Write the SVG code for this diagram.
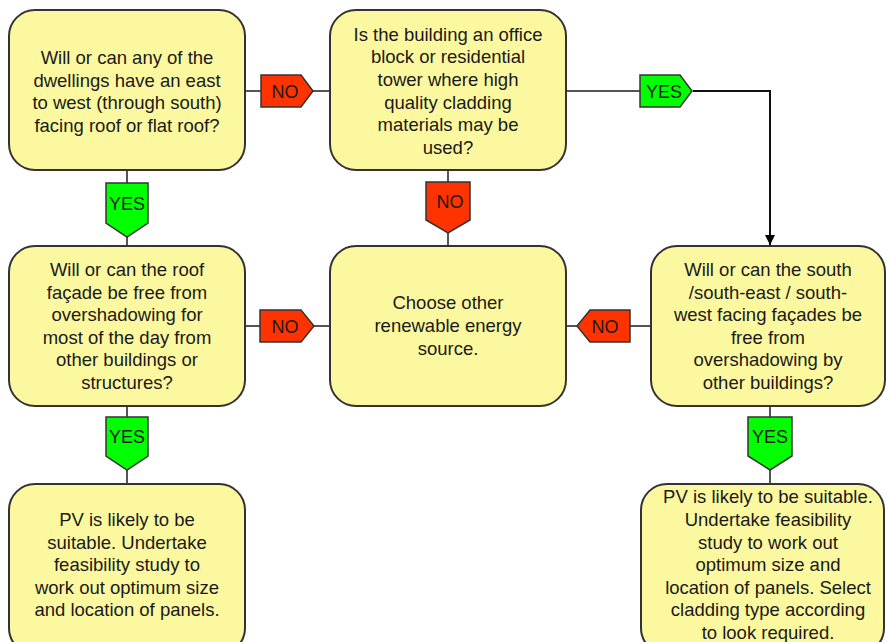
<svg xmlns="http://www.w3.org/2000/svg" width="886" height="642" viewBox="0 0 886 642">
<defs>
<style>
.box{fill:#FCF8A0;stroke:#333;stroke-width:2}
.t{font-family:"Liberation Sans",Arial,sans-serif;font-size:18.5px;fill:#1a1a1a;text-anchor:middle}
.lt{font-family:"Liberation Sans",Arial,sans-serif;font-size:18px;fill:#1a1a1a;text-anchor:middle}
.no{fill:#FF3300;stroke:#333;stroke-width:1.5}
.yes{fill:#00FF00;stroke:#333;stroke-width:1.5}
.c{fill:none;stroke:#555;stroke-width:2}
</style>
<marker id="ah" viewBox="0 0 10 10" refX="10" refY="5" markerWidth="10" markerHeight="10" markerUnits="userSpaceOnUse" orient="auto">
<path d="M0,0 L10,5 L0,10 z" fill="#000"/>
</marker>
</defs>
<rect width="886" height="642" fill="#fff"/>
<g id="connectors">
<line class="c" x1="245" y1="91" x2="329" y2="91"/>
<line class="c" x1="566" y1="91" x2="640" y2="91"/>
<path d="M693,91 H770 V245" fill="none" stroke="#111" stroke-width="2" marker-end="url(#ah)"/>
<line class="c" x1="127" y1="170" x2="127" y2="246"/>
<line class="c" x1="448" y1="170" x2="448" y2="246"/>
<line class="c" x1="245" y1="326" x2="330" y2="326"/>
<line class="c" x1="566" y1="326" x2="651" y2="326"/>
<line class="c" x1="127" y1="406" x2="127" y2="484"/>
<line class="c" x1="770" y1="406" x2="770" y2="484"/>
</g>
<g id="n1">
<rect class="box" x="9" y="10" width="236" height="160" rx="26"/>
<text class="t" x="127" y="64">Will or can any of the</text>
<text class="t" x="127" y="87">dwellings have an east</text>
<text class="t" x="127" y="109">to west (through south)</text>
<text class="t" x="127" y="132">facing roof or flat roof?</text>
</g>
<g id="n2">
<rect class="box" x="330" y="10" width="236" height="160" rx="26"/>
<text class="t" x="448" y="41">Is the building an office</text>
<text class="t" x="448" y="63">block or residential</text>
<text class="t" x="448" y="86">tower where high</text>
<text class="t" x="448" y="109">quality cladding</text>
<text class="t" x="448" y="131">materials may be</text>
<text class="t" x="448" y="154">used?</text>
</g>
<g id="n3">
<rect class="box" x="9" y="246" width="236" height="160" rx="26"/>
<text class="t" x="127" y="276">Will or can the roof</text>
<text class="t" x="127" y="299">façade be free from</text>
<text class="t" x="127" y="321">overshadowing for</text>
<text class="t" x="127" y="344">most of the day from</text>
<text class="t" x="127" y="366">other buildings or</text>
<text class="t" x="127" y="389">structures?</text>
</g>
<g id="n4">
<rect class="box" x="330" y="246" width="236" height="160" rx="26"/>
<text class="t" x="448" y="309">Choose other</text>
<text class="t" x="448" y="332">renewable energy</text>
<text class="t" x="448" y="355">source.</text>
</g>
<g id="n5">
<rect class="box" x="651" y="246" width="234" height="160" rx="26"/>
<text class="t" x="768" y="276">Will or can the south</text>
<text class="t" x="768" y="299">/south-east / south-</text>
<text class="t" x="768" y="321">west facing façades be</text>
<text class="t" x="768" y="344">free from</text>
<text class="t" x="768" y="366">overshadowing by</text>
<text class="t" x="768" y="389">other buildings?</text>
</g>
<g id="n6">
<rect class="box" x="9" y="484" width="236" height="170" rx="26"/>
<text class="t" x="127" y="526">PV is likely to be</text>
<text class="t" x="127" y="549">suitable. Undertake</text>
<text class="t" x="127" y="571">feasibility study to</text>
<text class="t" x="127" y="594">work out optimum size</text>
<text class="t" x="127" y="616">and location of panels.</text>
</g>
<g id="n7">
<rect class="box" x="641" y="484" width="243" height="170" rx="26"/>
<text class="t" x="768" y="503">PV is likely to be suitable.</text>
<text class="t" x="768" y="526">Undertake feasibility</text>
<text class="t" x="768" y="549">study to work out</text>
<text class="t" x="768" y="571">optimum size and</text>
<text class="t" x="768" y="594">location of panels. Select</text>
<text class="t" x="768" y="616">cladding type according</text>
<text class="t" x="768" y="639">to look required.</text>
</g>
<g id="tag-no-1">
<path class="no" d="M261,75 H301 L313,91 L301,107 H261 Z"/>
<text class="lt" x="285" y="98">NO</text>
</g>
<g id="tag-yes-1">
<path class="yes" d="M640,75 H680 L692,91 L680,107 H640 Z"/>
<text class="lt" x="664" y="98">YES</text>
</g>
<g id="tag-yes-2">
<path class="yes" d="M106,183 H148 V223 L127,237 L106,223 Z"/>
<text class="lt" x="127" y="210">YES</text>
</g>
<g id="tag-no-2">
<path class="no" d="M426,182 H470 V220 L448,233 L426,220 Z"/>
<text class="lt" x="450" y="208">NO</text>
</g>
<g id="tag-no-3">
<path class="no" d="M260,310 H301 L314,326 L301,342 H260 Z"/>
<text class="lt" x="285" y="333">NO</text>
</g>
<g id="tag-no-4">
<path class="no" d="M630,310 H590 L577,326 L590,342 H630 Z"/>
<text class="lt" x="605" y="333">NO</text>
</g>
<g id="tag-yes-3">
<path class="yes" d="M106,417 H148 V456 L127,470 L106,456 Z"/>
<text class="lt" x="127" y="443">YES</text>
</g>
<g id="tag-yes-4">
<path class="yes" d="M748,417 H792 V456 L770,470 L748,456 Z"/>
<text class="lt" x="770" y="443">YES</text>
</g>
</svg>
